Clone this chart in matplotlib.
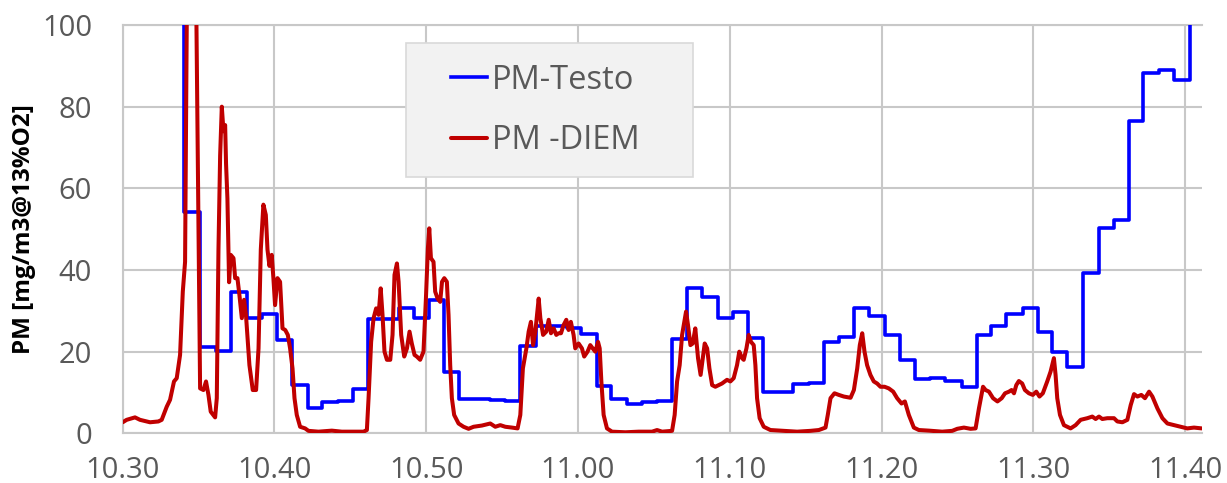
import matplotlib
matplotlib.use("Agg")
import matplotlib.pyplot as plt
from matplotlib.patches import Rectangle

# time axis in minutes after 10:30
tick_pos = [0, 10, 20, 30, 40, 50, 60, 70]
tick_labels = ["10.30", "10.40", "10.50", "11.00", "11.10", "11.20", "11.30", "11.40"]

# PM-Testo: one value per minute (step changes)
testo_t = [3.07, 4.07, 5.10, 6.13, 7.14, 8.18, 9.16, 10.15, 11.14, 12.18, 13.16, 14.18,
           15.16, 16.15, 17.17, 18.18, 19.17, 20.2, 21.14, 22.17, 23.2, 24.2, 25.2, 26.2,
           27.25, 28.2, 29.25, 30.2, 31.25, 32.2, 33.2, 34.2, 35.2, 36.2, 37.2, 38.2,
           39.2, 40.2, 41.18, 42.2, 43.2, 44.2, 45.2, 46.2, 47.2, 48.2, 49.2, 50.2,
           51.2, 52.2, 53.2, 54.2, 55.3, 56.3, 57.2, 58.2, 59.3, 60.3, 61.25, 62.2,
           63.3, 64.3, 65.3, 66.3, 67.2, 68.3, 69.3, 70.3, 71.1]
testo_v = [120, 54.3, 21.1, 20.2, 34.7, 28.2, 29.2, 22.9, 11.8, 6.1, 7.6, 8.0,
           10.8, 28.0, 28.0, 30.8, 28.2, 32.7, 15.1, 8.3, 8.3, 8.1, 8.0, 21.5,
           26.4, 26.4, 25.7, 24.2, 11.7, 8.3, 7.2, 7.6, 8.0, 23.1, 35.5, 33.5,
           28.2, 29.8, 23.4, 10.2, 10.0, 12.1, 12.4, 22.3, 23.7, 30.6, 28.7, 24.1,
           18.0, 13.3, 13.5, 12.9, 11.3, 24.1, 26.4, 29.2, 30.8, 24.7, 19.8, 16.3,
           39.3, 50.2, 52.2, 76.5, 88.3, 89.0, 86.5, 120, 120]

# PM-DIEM: continuous record
diem_t = [0.0, 0.26, 0.81, 1.14, 1.80, 2.35, 2.57, 2.90, 3.12, 3.38, 3.56, 3.78, 3.96, 4.11,
          4.22, 4.35, 4.72, 4.86, 4.99, 5.10, 5.32, 5.49, 5.65, 5.80, 6.09, 6.20, 6.31, 6.42,
          6.53, 6.64, 6.75, 6.81, 6.90, 7.01, 7.12, 7.30, 7.41, 7.56, 7.69, 7.85, 8.00, 8.13,
          8.35, 8.57, 8.79, 8.95, 9.10, 9.27, 9.43, 9.54, 9.67, 9.82, 9.93, 10.04, 10.2,
          10.37, 10.53, 10.71, 10.88, 11.03, 11.19, 11.32, 11.47, 11.69, 12.02, 12.24, 12.9,
          13.78, 14.44, 15.32, 15.87, 16.09, 16.2, 16.37, 16.53, 16.7, 16.86, 17.0, 17.12,
          17.25, 17.41, 17.63, 17.78, 17.91, 18.07, 18.18, 18.35, 18.55, 18.73, 18.9, 19.05,
          19.23, 19.38, 19.6, 19.82, 19.98, 20.11, 20.2, 20.31, 20.48, 20.59, 20.75, 20.92,
          21.04, 21.19, 21.36, 21.47, 21.58, 21.69, 21.84, 22.13, 22.46, 22.79, 23.12, 23.67,
          24.22, 24.55, 24.88, 25.21, 25.65, 26.02, 26.2, 26.37, 26.6, 26.75, 26.9, 27.04,
          27.19, 27.3, 27.41, 27.52, 27.7, 27.91, 28.07, 28.22, 28.4, 28.57, 28.72, 28.88,
          29.05, 29.23, 29.38, 29.53, 29.71, 29.82, 30.04, 30.26, 30.41, 30.63, 30.81, 30.97,
          31.14, 31.32, 31.43, 31.54, 31.69, 31.91, 32.24, 33.12, 34.0, 34.88, 35.21, 35.54,
          36.2, 36.37, 36.53, 36.7, 36.86, 37.01, 37.12, 37.25, 37.41, 37.56, 37.73, 37.91,
          38.08, 38.22, 38.35, 38.51, 38.66, 38.84, 39.05, 39.27, 39.49, 39.67, 39.82, 40.04,
          40.26, 40.48, 40.63, 40.81, 40.92, 41.1, 41.25, 41.4, 41.58, 41.69, 41.8, 41.97,
          42.24, 42.68, 43.56, 44.44, 45.32, 45.87, 46.31, 46.46, 46.64, 46.9, 47.19, 47.52,
          47.96, 48.18, 48.4, 48.57, 48.73, 48.88, 49.05, 49.27, 49.49, 49.71, 49.93, 50.2,
          50.48, 50.77, 51.03, 51.32, 51.54, 51.8, 52.13, 52.46, 53.13, 54.0, 54.66, 54.99,
          55.43, 55.87, 56.2, 56.42, 56.69, 56.86, 57.08, 57.35, 57.64, 57.92, 58.14, 58.4,
          58.57, 58.73, 58.88, 59.05, 59.27, 59.45, 59.71, 59.97, 60.2, 60.41, 60.63, 60.92,
          61.14, 61.36, 61.47, 61.58, 61.76, 62.02, 62.46, 62.79, 63.12, 63.56, 63.89, 64.11,
          64.33, 64.55, 64.88, 65.32, 65.54, 65.87, 66.2, 66.42, 66.64, 66.86, 67.12, 67.36,
          67.63, 67.85, 68.18, 68.51, 68.84, 69.27, 69.71, 70.15, 70.59, 71.1]
diem_v = [2.7, 3.3, 3.9, 3.3, 2.7, 2.9, 3.3, 6.5, 8.2, 12.7, 13.5, 19.2, 34.7, 42,
          100, 130, 130, 100, 53, 11, 10.6, 12.7, 9.4, 5.3, 3.9, 8.6, 45, 68,
          80, 74, 75.5, 66, 57.5, 37, 43.7, 42.9, 38, 38, 33.9, 28.2, 32.7, 28.6,
          16.7, 10.6, 10.6, 20.8, 45, 56, 53.5, 45, 41, 43.7, 38, 31.4, 38,
          37.1, 25.7, 25.3, 24.1, 20.8, 15.9, 8.6, 4.5, 1.6, 1.2, 0.6, 0.4,
          0.65, 0.4, 0.4, 0.4, 0.8, 8.6, 22.4, 28.2, 30.6, 29, 35.5, 29,
          20, 18, 18, 24.1, 38.8, 41.6, 37.1, 24.1, 18.8, 20.8, 24.9, 22,
          19.2, 18.8, 18, 20, 33, 45.3, 50.2, 42.9, 42, 34.7, 33, 32.2,
          37.1, 38, 37.1, 29, 16.7, 8.6, 4.5, 2.4, 1.6, 1.1, 1.6, 1.9,
          2.4, 1.6, 2.0, 1.6, 1.4, 1.2, 4.5, 15.9, 20.8, 24.9, 27.3, 21.6,
          24.9, 29, 33, 28.2, 24.1, 24.9, 27.8, 24.5, 25.7, 24.1, 24.5, 24.5,
          26.5, 27.8, 25.3, 27.3, 24.1, 20.8, 22, 20.8, 18.8, 20, 21.6, 20.8,
          20, 22.4, 20.8, 12.7, 4.5, 1.2, 0.4, 0.25, 0.4, 0.4, 0.8, 0.4,
          0.6, 4.5, 12.7, 16.7, 24.1, 27.3, 29.8, 26.5, 21.6, 22, 25.7, 18.4,
          14.3, 18.4, 22, 20.8, 15.9, 11.8, 11.4, 11.8, 12.2, 12.7, 13.1, 12.7,
          13.5, 16.7, 20, 18.4, 18, 20.8, 24.1, 22.4, 21.6, 16.7, 8.6, 3.7,
          1.6, 0.8, 0.6, 0.4, 0.6, 0.8, 1.4, 4.5, 8.6, 9.8, 9.4, 9.0,
          8.7, 10.6, 15.9, 21.6, 24.5, 20, 16.7, 14.3, 12.7, 12.2, 11.4, 11.4,
          11, 10.2, 8.6, 7.3, 7.8, 4.5, 1.4, 0.8, 0.65, 0.4, 0.6, 1.1,
          1.4, 1.1, 1.2, 6.1, 11.4, 10.6, 10.2, 8.6, 7.8, 8.6, 9.8, 10.2,
          10.6, 9.8, 11.8, 12.8, 12.2, 10.6, 9.8, 9.4, 10.2, 9, 9.8, 12.7,
          15.1, 18.4, 14.3, 8.6, 4.5, 2.0, 1.2, 2.0, 3.3, 3.7, 4.1, 3.5,
          4.1, 3.5, 3.7, 3.7, 2.9, 2.7, 3.3, 6.9, 9.6, 9.0, 9.4, 8.6,
          10.2, 9.0, 6.1, 3.7, 2.4, 2.0, 1.6, 1.2, 1.4, 1.2]

plt.rcParams['font.family'] = ['Open Sans', 'DejaVu Sans']

fig = plt.figure(figsize=(12.27, 4.83), dpi=100)
ax = fig.add_axes([0.1, 0.1029, 0.8794, 0.8453])

l_testo, = ax.step(testo_t, testo_v, where='post', color='#0000ff', lw=2.6, label='PM-Testo', zorder=3)
l_diem, = ax.plot(diem_t, diem_v, color='#c00000', lw=2.9, label='PM -DIEM', zorder=3,
                  solid_joinstyle='round', solid_capstyle='round')

ax.set_xlim(0, 71.1)
ax.set_ylim(0, 100)
ax.set_xticks(tick_pos)
ax.set_xticklabels(tick_labels)
ax.set_yticks(range(0, 101, 20))
ax.grid(color='#c8c8c8', lw=1.5, zorder=0)
ax.set_axisbelow(True)
for side in ['left', 'top', 'bottom']:
    ax.spines[side].set_color('#c8c8c8')
    ax.spines[side].set_linewidth(1.5)
ax.spines['right'].set_visible(False)

ax.tick_params(length=0, labelsize=21, colors='#595959')
ax.tick_params(axis='x', pad=16)
ax.tick_params(axis='y', pad=22)

fig.text(0.0196, 0.5255, 'PM [mg/m3@13%O2]', rotation=90, ha='center', va='center',
         fontsize=17.5, fontweight='bold', color='black')

# legend box
ax.add_patch(Rectangle((0.2626, 0.6277), 0.266, 0.3283, transform=ax.transAxes,
                       facecolor='#f2f2f2', edgecolor='#d9d9d9', lw=1.2, zorder=4))
leg = ax.legend([l_testo, l_diem], ['PM-Testo', 'PM -DIEM'], frameon=False,
                loc='center', bbox_to_anchor=(0.392, 0.7906), fontsize=23.5,
                handlelength=1.1, handletextpad=0.15, labelspacing=0.85,
                labelcolor='#595959')
leg.set_zorder(5)

fig.savefig('out.png', dpi=100)
